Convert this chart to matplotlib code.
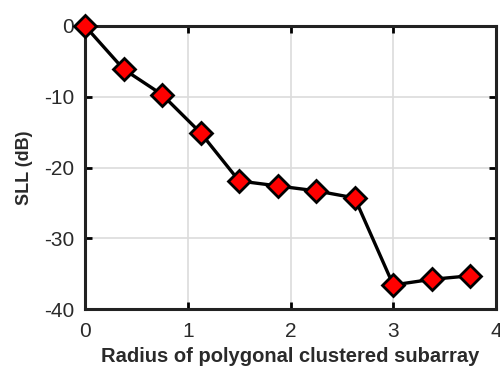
import numpy as np
import matplotlib
matplotlib.use("Agg")
import matplotlib.pyplot as plt

# Side-lobe level vs. radius of the polygonal clustered subarray
radius = [0.0, 0.375, 0.75, 1.125, 1.5, 1.875, 2.25, 2.625, 3.0, 3.375, 3.75]
sll_db = [0.0, -6.1, -9.7, -15.1, -21.9, -22.6, -23.3, -24.3, -36.6, -35.8, -35.3]
x_ticks = [0, 1, 2, 3, 4]
y_ticks = [0, -10, -20, -30, -40]

plt.rcParams["font.family"] = ["Liberation Sans", "DejaVu Sans"]
plt.rcParams["axes.unicode_minus"] = False

fig = plt.figure(figsize=(5.0, 3.71), dpi=100)
ax = fig.add_axes([0.17, 0.167, 0.822, 0.763])

ax.plot(radius, sll_db, color="black", linewidth=2.4, marker="D",
        markersize=11, markerfacecolor="red", markeredgecolor="black",
        markeredgewidth=2, clip_on=False, zorder=3)

ax.set_xlim(0, 4)
ax.set_ylim(-40, 0)
ax.set_xticks(x_ticks)
ax.set_yticks(y_ticks)
ax.grid(True, color="#dcdcdc", linewidth=1.2)
ax.set_axisbelow(True)

for s in ax.spines.values():
    s.set_linewidth(2.2)
    s.set_color("#222222")
ax.tick_params(direction="in", length=5, width=2, labelsize=15,
               labelcolor="#2a2a2a", top=True, right=True)
ax.tick_params(axis="y", pad=8)
ax.tick_params(axis="x", pad=9)

ax.set_xlabel("Radius of polygonal clustered subarray", fontsize=14.5,
              fontweight="bold", color="#2a2a2a", labelpad=5)
ax.set_ylabel("SLL (dB)", fontsize=13, fontweight="bold", color="#2a2a2a",
              labelpad=8)

fig.savefig("out.png", dpi=100)
